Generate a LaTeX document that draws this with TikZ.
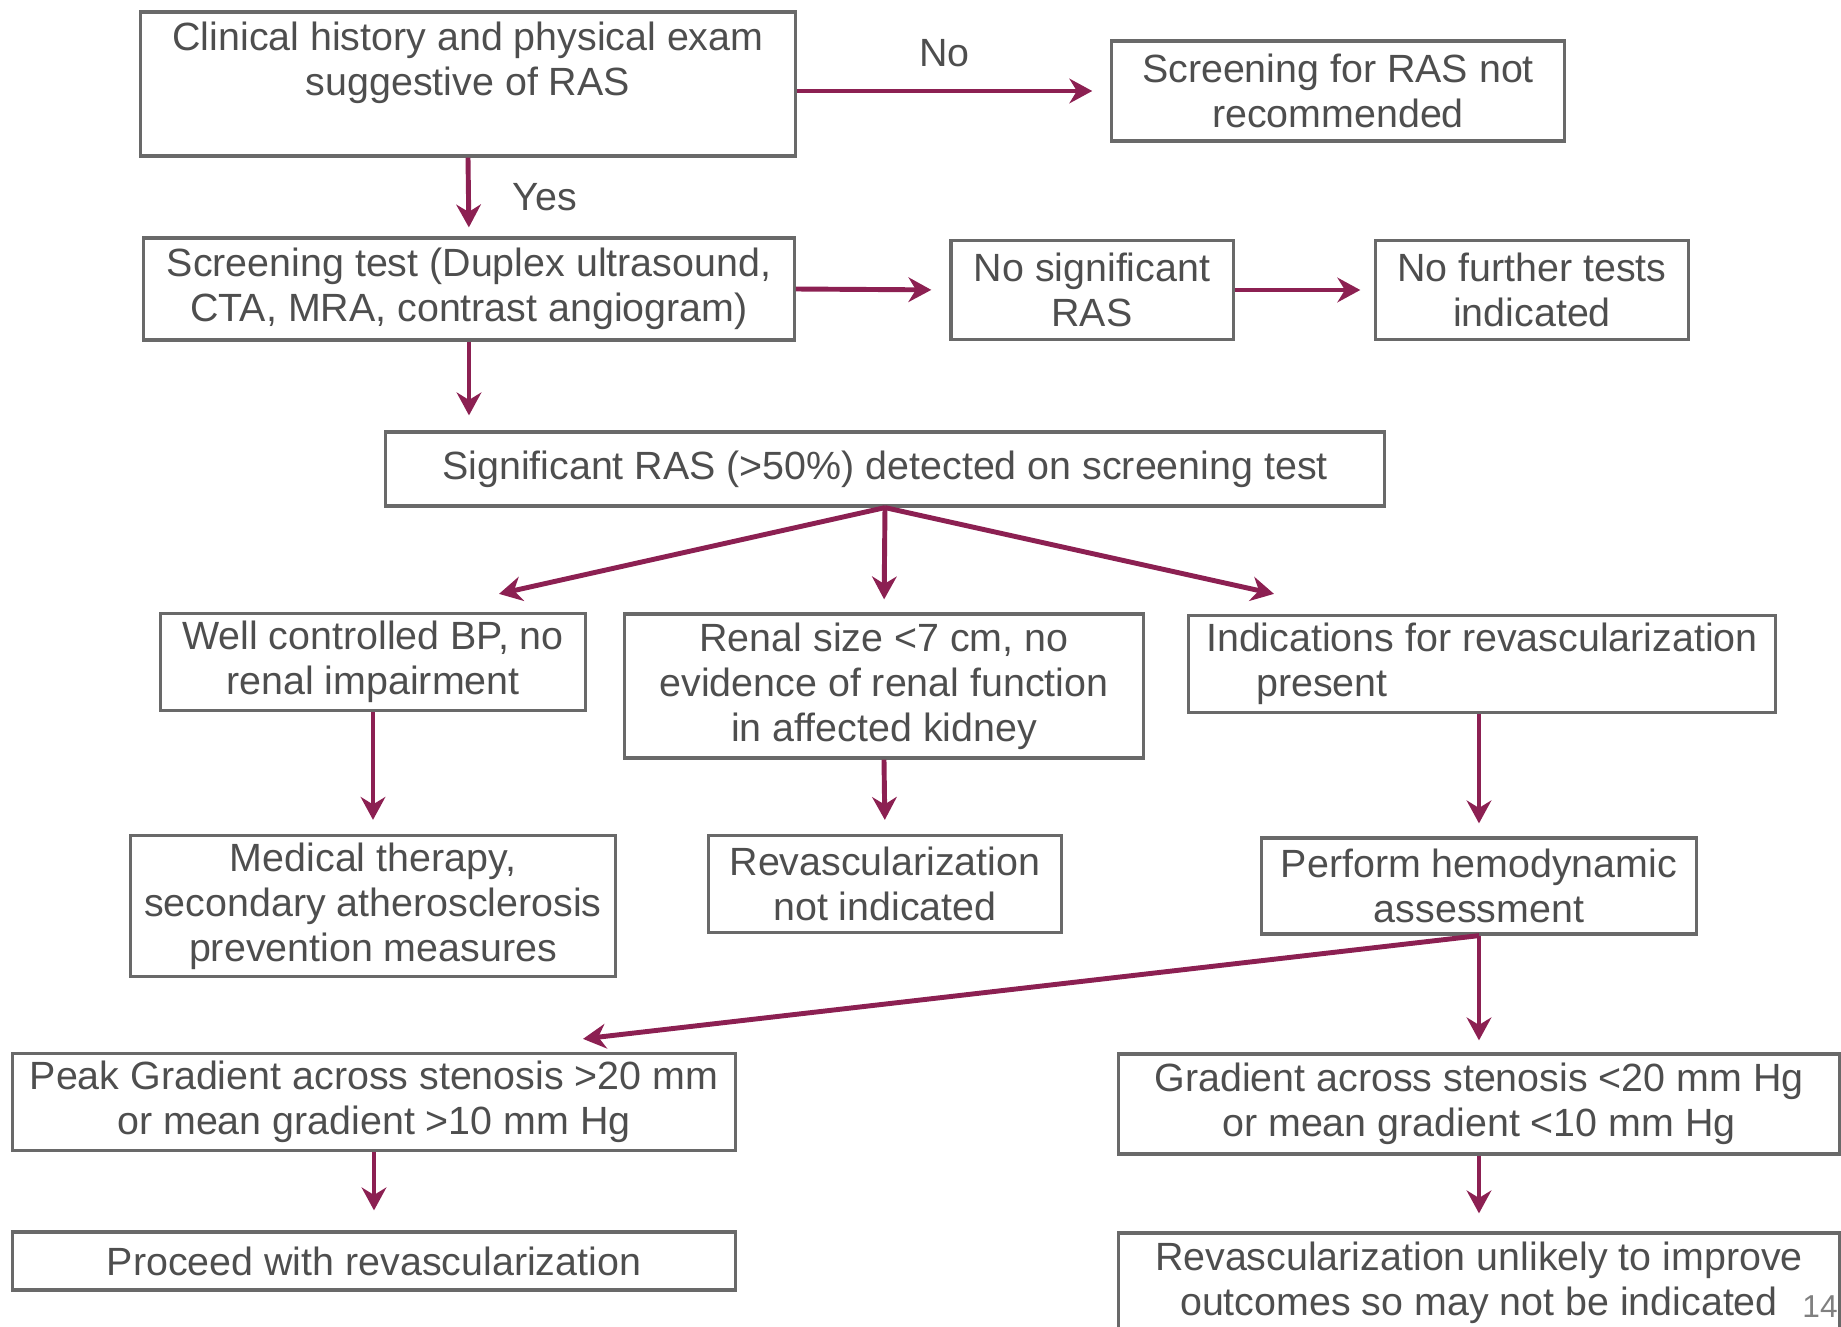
\documentclass[tikz,border=0pt]{standalone}
\usepackage{fontspec}
\setmainfont{Liberation Sans}
\usetikzlibrary{calc}
\usetikzlibrary{arrows.meta}
\definecolor{boxgray}{RGB}{105,105,105}
\definecolor{txtgray}{RGB}{78,78,78}
\definecolor{arrowred}{RGB}{140,32,82}
\newcommand{\flowbox}[6]{\node[flowbox,minimum width=#4,minimum height=#5] (#1) at ( #2 , #3 ) {#6};}
\tikzset{
  flowbox/.style={draw=boxgray,line width=0.9pt,text=txtgray,align=center,inner sep=2pt,font=\fontsize{11.2}{12.8}\selectfont},
  flow/.style={draw=arrowred,line width=1.4pt,-{Stealth[length=6.5pt,width=7pt]}},
  branchlabel/.style={text=txtgray,font=\fontsize{11.2}{13}\selectfont},
  pagenum/.style={text=gray,font=\fontsize{9}{10}\selectfont}
}

\begin{document}
\begin{tikzpicture}[x=0.01cm,y=-0.01cm]
        \useasboundingbox (0,0) rectangle (1841,1327);
        % row1
        \flowbox{clin}{468}{84}{6.55cm}{1.44cm}{Clinical history and physical exam\\suggestive of RAS\\[-2pt] \strut}
        \flowbox{notrec}{1338}{91}{4.52cm}{1.00cm}{Screening for RAS not\\recommended}
        % row2
        \flowbox{screen}{469}{289}{6.50cm}{1.02cm}{Screening test (Duplex ultrasound,\\CTA, MRA, contrast angiogram)}
        \flowbox{nosig}{1092}{290}{2.82cm}{0.99cm}{No significant\\RAS}
        \flowbox{nofur}{1532}{290}{3.12cm}{0.99cm}{No further tests\\indicated}
        % row3
        \flowbox{sigras}{885}{469}{9.98cm}{0.74cm}{Significant RAS (>50\%) detected on screening test}
        % row4
        \flowbox{wellbp}{373}{662}{4.25cm}{0.97cm}{Well controlled BP, no\\renal impairment}
        \flowbox{renal}{884}{686}{5.19cm}{1.44cm}{Renal size <7 cm, no\\evidence of renal function\\in affected kidney}
        \node[flowbox,align=left,minimum width=5.86cm,minimum height=0.97cm] (indic) at ( 1482 , 664 ) {Indications for revascularization\\\hspace{0.5cm}present};
        % row5
        \flowbox{medth}{373}{906}{4.85cm}{1.41cm}{Medical therapy,\\secondary atherosclerosis\\prevention measures}
        \flowbox{notind}{885}{884}{3.52cm}{0.97cm}{Revascularization\\not indicated}
        \flowbox{hemo}{1479}{886}{4.35cm}{0.96cm}{Perform hemodynamic\\assessment}
        % row6
        \flowbox{peak}{374}{1102}{7.22cm}{0.97cm}{Peak Gradient across stenosis >20 mm\\or mean gradient >10 mm Hg}
        \flowbox{grad}{1479}{1104}{7.21cm}{1.00cm}{Gradient across stenosis <20 mm Hg\\or mean gradient <10 mm Hg}
        % row7
        \flowbox{proceed}{374}{1261}{7.22cm}{0.58cm}{Proceed with revascularization}
        \flowbox{unlik}{1479}{1283}{7.21cm}{1.00cm}{Revascularization unlikely to improve\\outcomes so may not be indicated}
        % arrows top
        \draw[flow,shorten >=0.18cm] (clin.east |- notrec.west) -- node[branchlabel,pos=0.47,above=0.1cm] (nolbl) {No} (notrec.west);
        \draw[flow,shorten >=0.09cm] (clin.south) -- node[branchlabel,right=0.3cm] (yeslbl) {Yes} (screen.north);
        \draw[flow,shorten >=0.18cm] (screen.east) -- (nosig.west);
        \draw[flow,shorten >=0.14cm] (nosig.east) -- (nofur.west);
        \draw[flow,shorten >=0.15cm] (screen.south) -- (screen.south |- sigras.north);
        % arrows branches
        \draw[flow] (sigras.south) -- ($(wellbp.north)+(126,-18)$);
        \draw[flow,shorten >=0.13cm] (sigras.south) -- (renal.north);
        \draw[flow] (sigras.south) -- ($(indic.north)+(-208,-20)$);
        \draw[flow,shorten >=0.14cm] (wellbp.south) -- (medth.north);
        \draw[flow,shorten >=0.14cm] (renal.south) -- (notind.north);
        \draw[flow,shorten >=0.13cm] (hemo.north |- indic.south) -- (hemo.north);
        % arrows bottom
        \draw[flow] (hemo.south) -- ($(peak.north)+(209,-13)$);
        \draw[flow,shorten >=0.12cm] (hemo.south) -- (grad.north);
        \draw[flow,shorten >=0.2cm] (peak.south) -- (proceed.north);
        \draw[flow,shorten >=0.18cm] (grad.south) -- (unlik.north);
        % page number
        \node[pagenum] (pgnum) at ( 1820 , 1307 ) {14};
\end{tikzpicture}
\end{document}
